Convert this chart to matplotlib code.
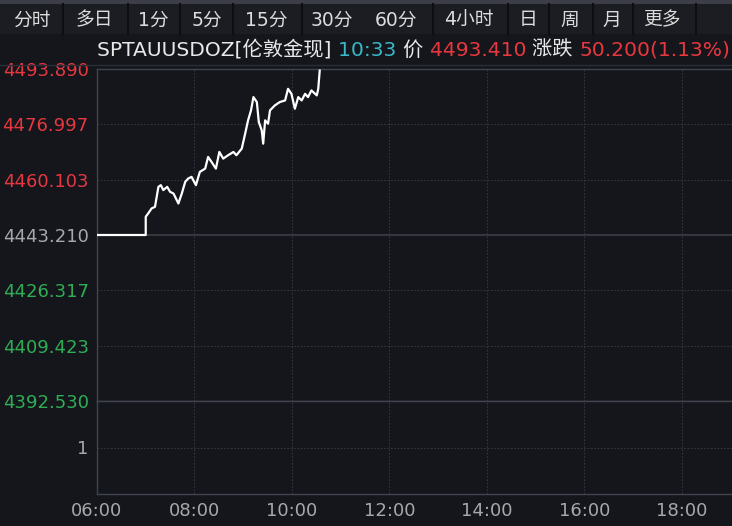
import matplotlib.pyplot as plt
from matplotlib.lines import Line2D
from matplotlib.patches import Rectangle
from matplotlib.text import Annotation

plt.rcParams['font.family'] = ['DejaVu Sans', 'Noto Sans CJK SC']

# data
tabs = ['分时', '多日', '1分', '5分', '15分', '30分', '60分', '4小时', '日', '周', '月', '更多']
tab_x = [32, 94, 153, 207, 266, 332, 396, 469, 528, 570, 612, 662]
tab_sep = [63, 128, 180, 233, 302, 433, 508, 549, 593, 633, 696]

pre_close = 4443.210
y_ticks = [4392.530, 4409.423, 4426.317, 4443.210, 4460.103, 4476.997, 4493.890]
x_ticks = [6, 8, 10, 12, 14, 16, 18]
x_labels = ['06:00', '08:00', '10:00', '12:00', '14:00', '16:00', '18:00']

t = [6.00, 7.00, 7.00, 7.05, 7.12, 7.19, 7.26, 7.31, 7.36, 7.44, 7.50, 7.57,
     7.67, 7.74, 7.81, 7.87, 7.94, 8.03, 8.11, 8.22, 8.28, 8.35, 8.44, 8.51,
     8.59, 8.69, 8.80, 8.86, 8.97, 9.04, 9.10, 9.16, 9.21, 9.28, 9.32, 9.38,
     9.41, 9.45, 9.51, 9.55, 9.65, 9.75, 9.86, 9.92, 9.99, 10.06, 10.13,
     10.20, 10.27, 10.33, 10.40, 10.51, 10.54, 10.57]
price = [4443.21, 4443.21, 4448.78, 4449.79, 4451.31, 4451.82, 4457.91, 4458.43,
         4456.91, 4457.91, 4456.39, 4455.87, 4452.83, 4455.87, 4459.43, 4460.44,
         4460.96, 4458.43, 4462.48, 4463.48, 4467.04, 4465.52, 4463.48, 4468.57,
         4466.53, 4467.56, 4468.57, 4467.56, 4469.57, 4474.14, 4478.22, 4481.26,
         4485.31, 4483.79, 4477.70, 4475.17, 4471.09, 4478.22, 4477.18, 4481.26,
         4482.78, 4483.79, 4484.30, 4487.84, 4486.31, 4481.75, 4485.31, 4484.30,
         4486.31, 4485.31, 4487.35, 4485.83, 4487.84, 4493.41]

bg = '#14161c'
grid_c = '#33363f'
red = '#e8373f'
green = '#2fae55'
grey = '#a8a8ab'

W, H = 732, 526
fig = plt.figure(figsize=(W / 100, H / 100), dpi=100, facecolor=bg)

# top tab bar
fig.add_artist(Rectangle((0, 1 - 4 / H), 1, 4 / H, transform=fig.transFigure, color='#3b3e46', lw=0))
fig.add_artist(Rectangle((0, 1 - 34 / H), 1, 30 / H, transform=fig.transFigure, color='#1b1d23', lw=0))
for sx in tab_sep:
    fig.add_artist(Line2D([sx / W, sx / W], [1 - 34 / H, 1 - 4 / H], transform=fig.transFigure,
                          color='#0d0e12', lw=1.5))
for name, tx in zip(tabs, tab_x):
    fig.text(tx / W, 1 - 20 / H, name, color='#dcdcdc', fontsize=13.5, ha='center', va='center')
fig.add_artist(Line2D([0, 1], [1 - 65 / H, 1 - 65 / H], transform=fig.transFigure, color='#2c2f37', lw=1))

# header line, pieces chained one after another
parts = [('SPTAUUSDOZ[伦敦金现] ', '#e8e8e8'), ('10:33 ', '#3ab8c8'), ('价 ', '#e8e8e8'),
         ('4493.410 ', red), ('涨跌 ', '#e8e8e8'), ('50.200(1.13%)', red)]
txt = fig.text(97 / W, 1 - 50 / H, parts[0][0], color=parts[0][1], fontsize=14.6, ha='left', va='center')
for s, c in parts[1:]:
    txt = fig.add_artist(Annotation(s, xy=(1, 0.5), xycoords=txt, va='center', ha='left',
                                    color=c, fontsize=14.6))

left = 97 / W
ax = fig.add_axes([left, 1 - 401 / H, 1 - left, (401 - 69) / H], facecolor=bg)
ax2 = fig.add_axes([left, 1 - 494 / H, 1 - left, (494 - 401) / H], facecolor=bg, sharex=ax)

ax.plot(t, price, color='white', lw=1.6, zorder=3)
ax.axhline(pre_close, color='#3b3e48', lw=1.2, zorder=1)
ax.set_xlim(6, 19.03)
ax.set_ylim(y_ticks[0], y_ticks[-1])
ax.set_yticks(y_ticks)
ax.set_yticklabels(['%.3f' % v for v in y_ticks])
for lab, v in zip(ax.get_yticklabels(), y_ticks):
    lab.set_color(red if v > pre_close else green if v < pre_close else grey)
ax.tick_params(axis='y', length=0, labelsize=13, pad=6)
ax.tick_params(axis='x', length=0, labelbottom=False)
for v in y_ticks[1:-1]:
    if v != pre_close:
        ax.axhline(v, color=grid_c, lw=0.8, ls=(0, (1.5, 1.5)), zorder=1)
for xv in x_ticks[1:]:
    ax.axvline(xv, color=grid_c, lw=0.8, ls=(0, (1.5, 1.5)), zorder=1)
    ax2.axvline(xv, color=grid_c, lw=0.8, ls=(0, (1.5, 1.5)), zorder=1)

ax2.set_ylim(0, 2)
ax2.set_yticks([1])
ax2.set_yticklabels(['1'], color=grey)
ax2.axhline(1, color=grid_c, lw=0.8, ls=(0, (1.5, 1.5)))
ax2.set_xticks(x_ticks)
ax2.set_xticklabels(x_labels, color=grey)
ax2.tick_params(length=0, labelsize=13)
ax2.tick_params(axis='y', pad=6)
ax2.tick_params(axis='x', pad=6)

for a in (ax, ax2):
    a.spines['right'].set_visible(False)
    for side in ('left', 'top', 'bottom'):
        a.spines[side].set_color('#41444d')
        a.spines[side].set_linewidth(1)

fig.savefig('out.png', dpi=100, facecolor=bg)
